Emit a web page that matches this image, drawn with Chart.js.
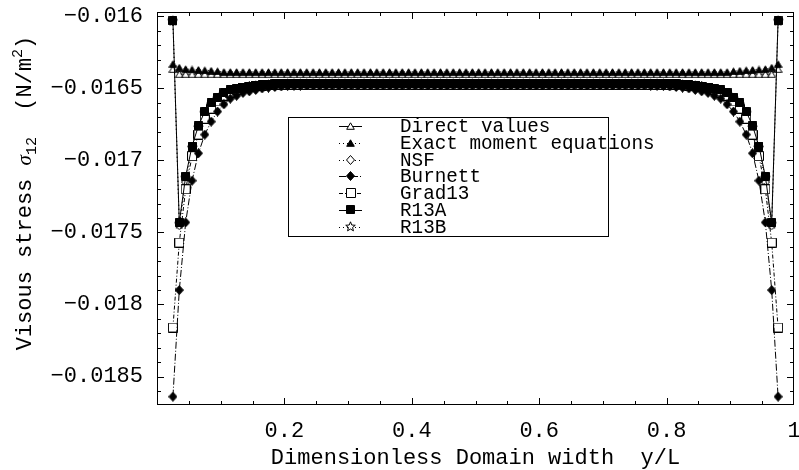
<!DOCTYPE html>
<html><head><meta charset="utf-8">
<script src="https://cdn.jsdelivr.net/npm/chart.js@4.4.1/dist/chart.umd.min.js"></script>
<style>html,body{margin:0;padding:0;background:#fff;}canvas{display:block;}</style>
</head><body>
<canvas id="c" width="799" height="470"></canvas>
<script>
const seriesNames = ['Direct values', 'Exact moment equations', 'NSF', 'Burnett', 'Grad13', 'R13A', 'R13B'];
const xTickValues = [0.2, 0.4, 0.6, 0.8, 1];
const xTickLabels = ['0.2', '0.4', '0.6', '0.8', '1'];
const yTickValues = [-0.016, -0.0165, -0.017, -0.0175, -0.018, -0.0185];
const yTickLabels = ['\u22120.016', '\u22120.0165', '\u22120.017', '\u22120.0175', '\u22120.018', '\u22120.0185'];

const xValues = [
0.025,0.035,0.045,0.055,0.065,0.075,0.085,0.095,0.105,0.115,
0.125,0.135,0.145,0.155,0.165,0.175,0.185,0.195,0.205,0.215,
0.225,0.235,0.245,0.255,0.265,0.275,0.285,0.295,0.305,0.315,
0.325,0.335,0.345,0.355,0.365,0.375,0.385,0.395,0.405,0.415,
0.425,0.435,0.445,0.455,0.465,0.475,0.485,0.495,0.505,0.515,
0.525,0.535,0.545,0.555,0.565,0.575,0.585,0.595,0.605,0.615,
0.625,0.635,0.645,0.655,0.665,0.675,0.685,0.695,0.705,0.715,
0.725,0.735,0.745,0.755,0.765,0.775,0.785,0.795,0.805,0.815,
0.825,0.835,0.845,0.855,0.865,0.875,0.885,0.895,0.905,0.915,
0.925,0.935,0.945,0.955,0.965,0.975];

const directValues = [
-0.016365,-0.0164,-0.0164,-0.0164,-0.0164,-0.0164,-0.0164,-0.0164,-0.0164,-0.0164,
-0.0164,-0.0164,-0.0164,-0.0164,-0.0164,-0.0164,-0.0164,-0.0164,-0.0164,-0.0164,
-0.0164,-0.0164,-0.0164,-0.0164,-0.0164,-0.0164,-0.0164,-0.0164,-0.0164,-0.0164,
-0.0164,-0.0164,-0.0164,-0.0164,-0.0164,-0.0164,-0.0164,-0.0164,-0.0164,-0.0164,
-0.0164,-0.0164,-0.0164,-0.0164,-0.0164,-0.0164,-0.0164,-0.0164,-0.0164,-0.0164,
-0.0164,-0.0164,-0.0164,-0.0164,-0.0164,-0.0164,-0.0164,-0.0164,-0.0164,-0.0164,
-0.0164,-0.0164,-0.0164,-0.0164,-0.0164,-0.0164,-0.0164,-0.0164,-0.0164,-0.0164,
-0.0164,-0.0164,-0.0164,-0.0164,-0.0164,-0.0164,-0.0164,-0.0164,-0.0164,-0.0164,
-0.0164,-0.0164,-0.0164,-0.0164,-0.0164,-0.0164,-0.0164,-0.0164,-0.0164,-0.0164,
-0.0164,-0.0164,-0.0164,-0.0164,-0.0164,-0.016365];

const exactMomentValues = [
-0.01633,-0.016355,-0.016365,-0.016368,-0.01637,-0.016373,-0.016376,-0.01638,-0.016385,-0.016385,
-0.016385,-0.016385,-0.016385,-0.016385,-0.016385,-0.016385,-0.016385,-0.016385,-0.016385,-0.016385,
-0.016385,-0.016385,-0.016385,-0.016385,-0.016385,-0.016385,-0.016385,-0.016385,-0.016385,-0.016385,
-0.016385,-0.016385,-0.016385,-0.016385,-0.016385,-0.016385,-0.016385,-0.016385,-0.016385,-0.016385,
-0.016385,-0.016385,-0.016385,-0.016385,-0.016385,-0.016385,-0.016385,-0.016385,-0.016385,-0.016385,
-0.016385,-0.016385,-0.016385,-0.016385,-0.016385,-0.016385,-0.016385,-0.016385,-0.016385,-0.016385,
-0.016385,-0.016385,-0.016385,-0.016385,-0.016385,-0.016385,-0.016385,-0.016385,-0.016385,-0.016385,
-0.016385,-0.016385,-0.016385,-0.016385,-0.016385,-0.016385,-0.016385,-0.016385,-0.016385,-0.016385,
-0.016385,-0.016385,-0.016385,-0.016385,-0.016385,-0.016385,-0.016385,-0.016385,-0.01638,-0.016376,
-0.016373,-0.01637,-0.016368,-0.016365,-0.016355,-0.01633];

const nsfValues = [
-0.01603,-0.01745,-0.01715,-0.01693,-0.01678,-0.01668,-0.01662,-0.01657,-0.01654,-0.01652,
-0.016505,-0.016494,-0.016486,-0.016481,-0.016477,-0.016474,-0.016472,-0.01647,-0.016469,-0.016469,
-0.016469,-0.016469,-0.016469,-0.016469,-0.016469,-0.016469,-0.016469,-0.016469,-0.016469,-0.016469,
-0.016469,-0.016469,-0.016469,-0.016469,-0.016469,-0.016469,-0.016469,-0.016469,-0.016469,-0.016469,
-0.016469,-0.016469,-0.016469,-0.016469,-0.016469,-0.016469,-0.016469,-0.016469,-0.016469,-0.016469,
-0.016469,-0.016469,-0.016469,-0.016469,-0.016469,-0.016469,-0.016469,-0.016469,-0.016469,-0.016469,
-0.016469,-0.016469,-0.016469,-0.016469,-0.016469,-0.016469,-0.016469,-0.016469,-0.016469,-0.016469,
-0.016469,-0.016469,-0.016469,-0.016469,-0.016469,-0.016469,-0.016469,-0.016469,-0.01647,-0.016472,
-0.016474,-0.016477,-0.016481,-0.016486,-0.016494,-0.016505,-0.01652,-0.01654,-0.01657,-0.01662,
-0.01668,-0.01678,-0.01693,-0.01715,-0.01745,-0.01603];

const burnettValues = [
-0.01864,-0.0179,-0.01743,-0.01714,-0.01695,-0.01682,-0.01673,-0.01666,-0.01661,-0.01657,
-0.01655,-0.01653,-0.01652,-0.01651,-0.0165,-0.016494,-0.01649,-0.016486,-0.016483,-0.016481,
-0.01648,-0.016479,-0.016479,-0.016479,-0.016479,-0.016479,-0.016479,-0.016479,-0.016479,-0.016479,
-0.016479,-0.016479,-0.016479,-0.016479,-0.016479,-0.016479,-0.016479,-0.016479,-0.016479,-0.016479,
-0.016479,-0.016479,-0.016479,-0.016479,-0.016479,-0.016479,-0.016479,-0.016479,-0.016479,-0.016479,
-0.016479,-0.016479,-0.016479,-0.016479,-0.016479,-0.016479,-0.016479,-0.016479,-0.016479,-0.016479,
-0.016479,-0.016479,-0.016479,-0.016479,-0.016479,-0.016479,-0.016479,-0.016479,-0.016479,-0.016479,
-0.016479,-0.016479,-0.016479,-0.016479,-0.016479,-0.01648,-0.016481,-0.016483,-0.016486,-0.01649,
-0.016494,-0.0165,-0.01651,-0.01652,-0.01653,-0.01655,-0.01657,-0.01661,-0.01666,-0.01673,
-0.01682,-0.01695,-0.01714,-0.01743,-0.0179,-0.01864];

const grad13Values = [
-0.01816,-0.01757,-0.0172,-0.01697,-0.01682,-0.01671,-0.01664,-0.01659,-0.01655,-0.01653,
-0.01651,-0.0165,-0.01649,-0.016484,-0.01648,-0.016477,-0.016475,-0.016474,-0.016473,-0.016473,
-0.016473,-0.016473,-0.016473,-0.016473,-0.016473,-0.016473,-0.016473,-0.016473,-0.016473,-0.016473,
-0.016473,-0.016473,-0.016473,-0.016473,-0.016473,-0.016473,-0.016473,-0.016473,-0.016473,-0.016473,
-0.016473,-0.016473,-0.016473,-0.016473,-0.016473,-0.016473,-0.016473,-0.016473,-0.016473,-0.016473,
-0.016473,-0.016473,-0.016473,-0.016473,-0.016473,-0.016473,-0.016473,-0.016473,-0.016473,-0.016473,
-0.016473,-0.016473,-0.016473,-0.016473,-0.016473,-0.016473,-0.016473,-0.016473,-0.016473,-0.016473,
-0.016473,-0.016473,-0.016473,-0.016473,-0.016473,-0.016473,-0.016473,-0.016473,-0.016474,-0.016475,
-0.016477,-0.01648,-0.016484,-0.01649,-0.0165,-0.01651,-0.01653,-0.01655,-0.01659,-0.01664,
-0.01671,-0.01682,-0.01697,-0.0172,-0.01757,-0.01816];

const r13aValues = [
-0.01603,-0.01743,-0.01711,-0.0169,-0.01676,-0.01666,-0.0166,-0.01656,-0.01653,-0.01651,
-0.0165,-0.01649,-0.016483,-0.016477,-0.016473,-0.01647,-0.016468,-0.016467,-0.016466,-0.016466,
-0.016466,-0.016466,-0.016466,-0.016466,-0.016466,-0.016466,-0.016466,-0.016466,-0.016466,-0.016466,
-0.016466,-0.016466,-0.016466,-0.016466,-0.016466,-0.016466,-0.016466,-0.016466,-0.016466,-0.016466,
-0.016466,-0.016466,-0.016466,-0.016466,-0.016466,-0.016466,-0.016466,-0.016466,-0.016466,-0.016466,
-0.016466,-0.016466,-0.016466,-0.016466,-0.016466,-0.016466,-0.016466,-0.016466,-0.016466,-0.016466,
-0.016466,-0.016466,-0.016466,-0.016466,-0.016466,-0.016466,-0.016466,-0.016466,-0.016466,-0.016466,
-0.016466,-0.016466,-0.016466,-0.016466,-0.016466,-0.016466,-0.016466,-0.016466,-0.016467,-0.016468,
-0.01647,-0.016473,-0.016477,-0.016483,-0.01649,-0.0165,-0.01651,-0.01653,-0.01656,-0.0166,
-0.01666,-0.01676,-0.0169,-0.01711,-0.01743,-0.01603];

const r13bValues = [
-0.01603,-0.01744,-0.01712,-0.01691,-0.01677,-0.01667,-0.01661,-0.01657,-0.01654,-0.01652,
-0.01651,-0.0165,-0.016488,-0.016481,-0.016476,-0.016472,-0.01647,-0.016469,-0.016468,-0.016468,
-0.016468,-0.016468,-0.016468,-0.016468,-0.016468,-0.016468,-0.016468,-0.016468,-0.016468,-0.016468,
-0.016468,-0.016468,-0.016468,-0.016468,-0.016468,-0.016468,-0.016468,-0.016468,-0.016468,-0.016468,
-0.016468,-0.016468,-0.016468,-0.016468,-0.016468,-0.016468,-0.016468,-0.016468,-0.016468,-0.016468,
-0.016468,-0.016468,-0.016468,-0.016468,-0.016468,-0.016468,-0.016468,-0.016468,-0.016468,-0.016468,
-0.016468,-0.016468,-0.016468,-0.016468,-0.016468,-0.016468,-0.016468,-0.016468,-0.016468,-0.016468,
-0.016468,-0.016468,-0.016468,-0.016468,-0.016468,-0.016468,-0.016468,-0.016468,-0.016469,-0.01647,
-0.016472,-0.016476,-0.016481,-0.016488,-0.0165,-0.01651,-0.01652,-0.01654,-0.01657,-0.01661,
-0.01667,-0.01677,-0.01691,-0.01712,-0.01744,-0.01603];

const seriesValues = [directValues, exactMomentValues, nsfValues, burnettValues, grad13Values, r13aValues, r13bValues];

const MONO = '"Liberation Mono", "Courier New", monospace';

function mk(kind) {
  const c = document.createElement('canvas');
  const sz = {triOpen:[9,8], triFilled:[9,8], sqFilled:[9,9], sqOpen:[10,10], diaFilled:[9,10], diaOpen:[9,10], starOpen:[11,11]}[kind];
  c.width = sz[0]; c.height = sz[1];
  const g = c.getContext('2d');
  g.lineWidth = 1; g.strokeStyle = '#000';
  const open = kind.indexOf('Open') >= 0;
  g.fillStyle = open ? '#fff' : '#000';
  g.beginPath();
  if (kind.startsWith('tri')) {
    g.moveTo(4.5, 0.8); g.lineTo(8.3, 7.3); g.lineTo(0.7, 7.3); g.closePath();
  } else if (kind.startsWith('sq')) {
    if (open) g.rect(0.5, 0.5, 9, 9); else g.rect(0.5, 0.5, 8, 8);
  } else if (kind.startsWith('dia')) {
    g.moveTo(4.5, 0.5); g.lineTo(8.5, 5); g.lineTo(4.5, 9.5); g.lineTo(0.5, 5); g.closePath();
  } else {
    for (let k = 0; k < 10; k++) {
      const a = -Math.PI / 2 + k * Math.PI / 5;
      const r = k % 2 ? 2.2 : 5;
      g.lineTo(5.5 + r * Math.cos(a), 5.8 + r * Math.sin(a));
    }
    g.closePath();
  }
  g.fill(); g.stroke();
  return c;
}

const seriesStyle = [
  {marker: mk('triOpen'), dash: [], order: 6},
  {marker: mk('triFilled'), dash: [1, 3], order: 0},
  {marker: mk('diaOpen'), dash: [1, 3], order: 4},
  {marker: mk('diaFilled'), dash: [7, 2, 1, 2], order: 2},
  {marker: mk('sqOpen'), dash: [4, 2, 1, 2], order: 3},
  {marker: mk('sqFilled'), dash: [], order: 1},
  {marker: mk('starOpen'), dash: [1, 3], order: 5}
];

const datasets = seriesNames.map((name, i) => ({
  label: name,
  data: xValues.map((x, j) => ({x: x, y: seriesValues[i][j]})),
  borderColor: '#000', backgroundColor: '#000', borderWidth: 1,
  borderDash: seriesStyle[i].dash,
  pointStyle: seriesStyle[i].marker, pointRadius: 4, pointHoverRadius: 4,
  fill: false, tension: 0, order: seriesStyle[i].order
}));

const framePlugin = {
  id: 'frame',
  afterDraw(chart) {
    const ctx = chart.ctx, a = chart.chartArea, xs = chart.scales.x, ys = chart.scales.y;
    ctx.save();
    ctx.strokeStyle = '#000'; ctx.lineWidth = 1; ctx.setLineDash([]);
    ctx.strokeRect(a.left + 0.5, a.top + 0.5, a.right - a.left - 1, a.bottom - a.top - 1);
    ctx.beginPath();
    for (let k = 1; k < 20; k++) {
      const px = Math.round(xs.getPixelForValue(k * 0.05)) + 0.5;
      const L = (k % 4 === 0) ? 7 : 4;
      ctx.moveTo(px, a.bottom); ctx.lineTo(px, a.bottom - L);
      ctx.moveTo(px, a.top); ctx.lineTo(px, a.top + L);
    }
    for (let k = 0; k <= 26; k++) {
      const py = Math.round(ys.getPixelForValue(-0.016 - k * 0.0001)) + 0.5;
      const L = (k % 5 === 0) ? 7 : 4;
      ctx.moveTo(a.left, py); ctx.lineTo(a.left + L, py);
      ctx.moveTo(a.right, py); ctx.lineTo(a.right - L, py);
    }
    ctx.stroke();

    // y-axis title with sub/superscripts
    ctx.translate(31, 193);
    ctx.rotate(-Math.PI / 2);
    ctx.fillStyle = '#000';
    ctx.textBaseline = 'alphabetic';
    const parts = [
      {t: 'Visous stress ', f: '22px ' + MONO, dy: 0},
      {t: '\u03c3', f: 'italic 21px "Liberation Serif", serif', dy: 0},
      {t: '12', f: '15px ' + MONO, dy: 5},
      {t: '  (N/m', f: '22px ' + MONO, dy: 0},
      {t: '2', f: '15px ' + MONO, dy: -9},
      {t: ')', f: '22px ' + MONO, dy: 0}
    ];
    let total = 0;
    parts.forEach(p => { ctx.font = p.f; p.w = ctx.measureText(p.t).width; total += p.w; });
    let cx = -total / 2;
    parts.forEach(p => { ctx.font = p.f; ctx.fillText(p.t, cx, p.dy); cx += p.w; });
    ctx.restore();

    // legend
    ctx.save();
    ctx.fillStyle = '#fff';
    ctx.fillRect(288, 117, 320, 119);
    ctx.strokeStyle = '#000'; ctx.lineWidth = 1;
    ctx.strokeRect(288.5, 117.5, 320, 119);
    ctx.font = '19.3px ' + MONO;
    ctx.textBaseline = 'middle';
    seriesNames.forEach((name, i) => {
      const yy = 126 + i * 16.75;
      ctx.setLineDash(seriesStyle[i].dash);
      ctx.beginPath(); ctx.moveTo(339, Math.round(yy) + 0.5); ctx.lineTo(362, Math.round(yy) + 0.5); ctx.stroke();
      ctx.setLineDash([]);
      const m = seriesStyle[i].marker;
      ctx.drawImage(m, Math.round(350.5 - m.width / 2), Math.round(yy - m.height / 2));
      ctx.fillStyle = '#000';
      ctx.fillText(name, 400, yy + 1);
    });
    ctx.restore();
  }
};

new Chart(document.getElementById('c'), {
  type: 'line',
  data: {datasets: datasets},
  options: {
    responsive: false, animation: false, events: [],
    layout: {padding: {top: 12, right: 2, bottom: 0, left: 0}},
    plugins: {legend: {display: false}, tooltip: {enabled: false}},
    scales: {
      x: {
        type: 'linear', min: 0, max: 1,
        afterBuildTicks: s => { s.ticks = xTickValues.map(v => ({value: v})); },
        ticks: {autoSkip: false, maxRotation: 0, color: '#000', padding: 13,
          font: {family: MONO, size: 22}, callback: (v, i) => xTickLabels[i]},
        grid: {display: false, drawTicks: false},
        border: {display: false},
        title: {display: true, text: 'Dimensionless Domain width  y/L', color: '#000',
          font: {family: MONO, size: 22, lineHeight: 1}, padding: {top: 0, bottom: 1}},
        afterFit: s => { s.height = 65; s.paddingLeft = 0; s.paddingRight = 0; }
      },
      y: {
        type: 'linear', min: -0.0186979, max: -0.0159688,
        afterBuildTicks: s => { s.ticks = yTickValues.map(v => ({value: v})); },
        ticks: {autoSkip: false, color: '#000', padding: 14,
          font: {family: MONO, size: 22}, callback: (v, i) => yTickLabels[i]},
        grid: {display: false, drawTicks: false},
        border: {display: false},
        title: {display: false},
        afterFit: s => { s.width = 157; s.paddingTop = 0; s.paddingBottom = 0; }
      }
    }
  },
  plugins: [framePlugin]
});
</script>
</body></html>
